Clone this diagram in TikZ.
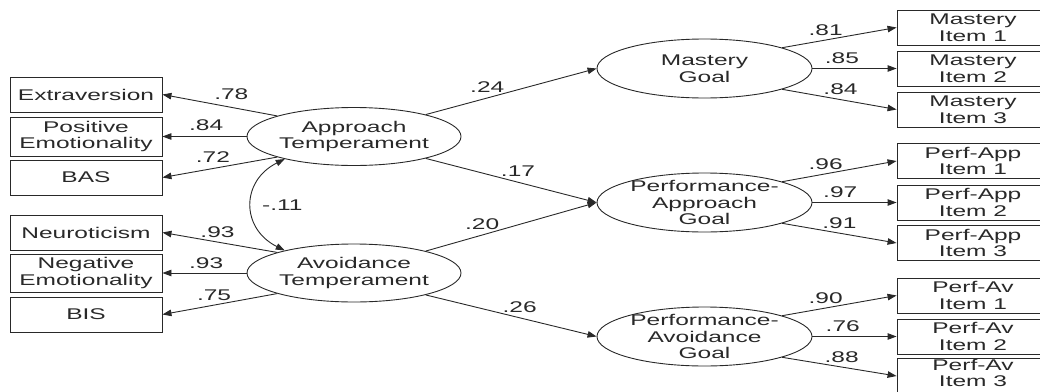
\documentclass[tikz,border=0pt]{standalone}
\usepackage{fontspec}
\setmainfont{Liberation Sans}[FakeStretch=1.58]
\usetikzlibrary{arrows.meta,shapes.geometric}
\definecolor{ink}{gray}{0.16}
\begin{document}
\begin{tikzpicture}[x=1pt,y=-1pt,
  every node/.style={font=\fontsize{15.5}{16.5}\selectfont, text=ink},
  obs/.style={draw=ink, line width=0.9pt, rectangle, minimum width=152pt,
              minimum height=35pt, inner sep=0pt, align=center},
  lat/.style={draw=ink, line width=0.9pt, ellipse, minimum width=214pt,
              minimum height=58pt, inner xsep=0pt, inner ysep=-3pt, align=center},
  tip/.tip={Triangle[length=9pt,width=6.5pt]},
  conn/.style={draw=ink, line width=0.9pt, -tip},
  cov/.style={draw=ink, line width=0.9pt, tip-tip},
  coef/.style={inner sep=0pt, anchor=center, yshift=11pt},
]
\useasboundingbox (0,0) rectangle (1040,391);
\clip (0,0) rectangle (1040,391);

% observed indicators of the temperaments
\node[obs] (ext) at (86,94.5) {Extraversion};
\node[obs, minimum height=39pt] (pos) at (86,136.5) {Positive\\Emotionality};
\node[obs] (bas) at (86,177.5) {BAS};
\node[obs] (neu) at (86,232.5) {Neuroticism};
\node[obs, minimum height=38pt] (neg) at (86,273) {Negative\\Emotionality};
\node[obs] (bis) at (86,314.5) {BIS};

% latent temperaments
\node[lat] (AT) at (354,136.5) {Approach\\Temperament};
\node[lat] (AV) at (354,273) {Avoidance\\Temperament};

% latent goals
\node[lat, minimum width=215pt, minimum height=59pt] (MG) at (704.5,68.5) {Mastery\\Goal};
\node[lat, minimum width=215pt, minimum height=59pt] (PA) at (704.5,202.5) {Performance-\\Approach\\Goal};
\node[lat, minimum width=215pt, minimum height=59pt] (PV) at (704.5,336.5) {Performance-\\Avoidance\\Goal};

% goal items
\node[obs] (M1) at (973,27.5) {Mastery\\Item 1};
\node[obs] (M2) at (973,68.5) {Mastery\\Item 2};
\node[obs] (M3) at (973,109.5) {Mastery\\Item 3};
\node[obs] (PA1) at (973,161) {Perf-App\\Item 1};
\node[obs] (PA2) at (973,202.5) {Perf-App\\Item 2};
\node[obs] (PA3) at (973,243) {Perf-App\\Item 3};
\node[obs] (PV1) at (973,295.5) {Perf-Av\\Item 1};
\node[obs] (PV2) at (973,336.5) {Perf-Av\\Item 2};
\node[obs, text depth=6pt] (PV3) at (973,376) {Perf-Av\\Item 3};

% loadings of the temperaments
\draw[conn] (AT.165) -- node[coef,pos=.4,yshift=2pt]{.78} (ext.east);
\draw[conn] (AT.west) -- node[coef,pos=.48]{.84} (pos.east);
\draw[conn] (AT.195) -- node[coef,pos=.56]{.72} (bas.east);
\draw[conn] (AV.165) -- node[coef,pos=.52,yshift=-1pt]{.93} (neu.east);
\draw[conn] (AV.west) -- node[coef,pos=.48,yshift=-1pt]{.93} (neg.east);
\draw[conn] (AV.195) -- node[coef,pos=.55,yshift=-1pt]{.75} (bis.east);

% correlation of the temperaments
\draw[cov] (AT.198) .. controls +(-44,22) and +(-44,-22) .. node[pos=.5,anchor=west,inner sep=0pt,xshift=10pt]{-.11} (AV.162);

% structural paths
\draw[conn] (AT.17) -- node[coef,pos=.36]{.24} (MG.west);
\draw[conn] (AT.-17) -- node[coef,pos=.54]{.17} (PA.west);
\draw[conn] (AV.17) -- node[coef,pos=.33]{.20} (PA.west);
\draw[conn] (AV.-17) -- node[coef,pos=.55]{.26} (PV.west);

% loadings of the goals
\draw[conn] (MG.15) -- node[coef,pos=.38,yshift=-1pt]{.81} (M1.west);
\draw[conn] (MG.east) -- node[coef,pos=.35,yshift=-1pt]{.85} (M2.west);
\draw[conn] (MG.-15) -- node[coef,pos=.51,yshift=-1pt]{.84} (M3.west);
\draw[conn] (PA.15) -- node[coef,pos=.38,yshift=-1pt]{.96} (PA1.west);
\draw[conn] (PA.east) -- node[coef,pos=.33,yshift=-1pt]{.97} (PA2.west);
\draw[conn] (PA.-15) -- node[coef,pos=.5,yshift=-1pt]{.91} (PA3.west);
\draw[conn] (PV.15) -- node[coef,pos=.38,yshift=-1pt]{.90} (PV1.west);
\draw[conn] (PV.east) -- node[coef,pos=.36,yshift=-1pt]{.76} (PV2.west);
\draw[conn] (PV.-15) -- node[coef,pos=.52,yshift=-1pt]{.88} (PV3.west);
\end{tikzpicture}
\end{document}
